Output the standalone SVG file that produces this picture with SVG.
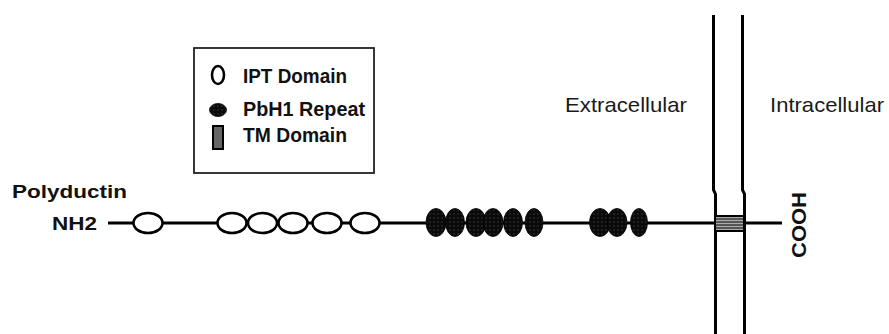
<svg xmlns="http://www.w3.org/2000/svg" width="889" height="334" viewBox="0 0 889 334">
<style>
.b{font-family:"Liberation Sans",Arial,sans-serif;font-weight:bold;fill:#111}
.r{font-family:"Liberation Sans",Arial,sans-serif;fill:#1a1a1a}
.ipt{fill:#fff;stroke:#000;stroke-width:2.6}
.pbh{fill:url(#dots);stroke:#000;stroke-width:0.8}
.mem{stroke:#000;stroke-width:3;fill:none}
</style>
<defs>
<pattern id="dots" width="4" height="4" patternUnits="userSpaceOnUse">
<rect width="4" height="4" fill="#0a0a0a"/>
<circle cx="2" cy="2" r="0.8" fill="#3a3a3a"/>
</pattern>
<pattern id="stripes" width="4" height="3" patternUnits="userSpaceOnUse">
<rect width="4" height="3" fill="#555"/>
<rect y="1" width="4" height="1" fill="#aaa"/>
</pattern>
</defs>
<rect width="889" height="334" fill="#fff"/>

<g id="legend">
<rect x="194" y="48" width="180" height="125" fill="none" stroke="#222" stroke-width="1.8"/>
<ellipse class="ipt" cx="218" cy="75" rx="6" ry="9"/>
<text class="b" x="243" y="83" font-size="20" textLength="104" lengthAdjust="spacingAndGlyphs">IPT Domain</text>
<ellipse cx="218" cy="110" rx="8.5" ry="6.5" fill="url(#dots)" stroke="#000" stroke-width="0.8"/>
<text class="b" x="243" y="116" font-size="20" textLength="122" lengthAdjust="spacingAndGlyphs">PbH1 Repeat</text>
<rect x="213" y="126" width="10" height="23" fill="#666" stroke="#000" stroke-width="2"/>
<text class="b" x="243" y="142" font-size="20" textLength="104" lengthAdjust="spacingAndGlyphs">TM Domain</text>
</g>

<g id="membrane">
<path class="mem" d="M713.5 15 V190 L715.5 194 V334 M742.5 15 V190 L744.5 194 V334"/>
</g>

<g id="labels">
<text class="r" x="565" y="112" font-size="21" textLength="122" lengthAdjust="spacingAndGlyphs">Extracellular</text>
<text class="r" x="770" y="112" font-size="21" textLength="114" lengthAdjust="spacingAndGlyphs">Intracellular</text>
<text class="b" x="12" y="198" font-size="19" textLength="115" lengthAdjust="spacingAndGlyphs">Polyductin</text>
<text class="b" x="52" y="230" font-size="19" textLength="45" lengthAdjust="spacingAndGlyphs">NH2</text>
<text class="b" transform="translate(806,225) rotate(-90)" text-anchor="middle" font-size="21" textLength="66" lengthAdjust="spacingAndGlyphs">COOH</text>
</g>

<g id="connectors">
<line x1="108" y1="223" x2="782" y2="223" stroke="#000" stroke-width="3"/>
</g>

<g id="ipt-domains">
<ellipse class="ipt" cx="148" cy="223" rx="14.5" ry="10"/>
<ellipse class="ipt" cx="232" cy="223" rx="14.5" ry="10"/>
<ellipse class="ipt" cx="262.5" cy="223" rx="14.5" ry="10"/>
<ellipse class="ipt" cx="293" cy="223" rx="14.5" ry="10"/>
<ellipse class="ipt" cx="327" cy="223" rx="14.5" ry="10"/>
<ellipse class="ipt" cx="365" cy="223" rx="14.5" ry="10"/>
</g>

<g id="pbh1-repeats">
<ellipse class="pbh" cx="436" cy="222.5" rx="10" ry="14"/>
<ellipse class="pbh" cx="455" cy="222.5" rx="9.5" ry="14"/>
<ellipse class="pbh" cx="476" cy="222.5" rx="10" ry="14"/>
<ellipse class="pbh" cx="493" cy="222.5" rx="10" ry="14"/>
<ellipse class="pbh" cx="513" cy="222.5" rx="9.5" ry="14"/>
<ellipse class="pbh" cx="534" cy="222.5" rx="9" ry="14"/>
<ellipse class="pbh" cx="600" cy="222.5" rx="10.5" ry="14"/>
<ellipse class="pbh" cx="617" cy="222.5" rx="10" ry="14"/>
<ellipse class="pbh" cx="639" cy="222.5" rx="8.5" ry="14"/>
</g>

<g id="tm-domain">
<rect x="715" y="216" width="29" height="15" fill="url(#stripes)" stroke="#000" stroke-width="2"/>
</g>
</svg>
